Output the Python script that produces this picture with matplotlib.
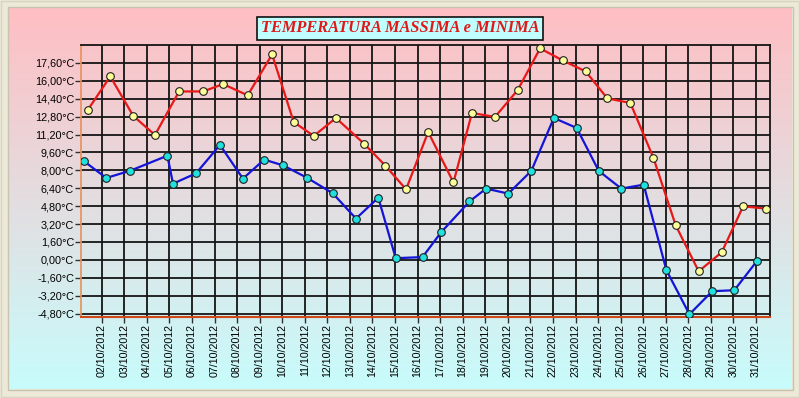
import numpy as np
import matplotlib
matplotlib.use("Agg")
import matplotlib.pyplot as plt
from matplotlib.patches import Rectangle

# Temperature readings for October 2012 (x = day of month, fractional = time of reading)
max_days = [1.38, 2.38, 3.40, 4.36, 5.43, 6.50, 7.38, 8.47, 9.55, 10.51, 11.40, 12.38,
            13.64, 14.57, 15.49, 16.47, 17.59, 18.41, 19.43, 20.44, 21.43, 22.43, 23.45,
            24.41, 25.43, 26.45, 27.44, 28.46, 29.48, 30.43, 31.43]
max_vals = [13.39, 16.39, 12.86, 11.16, 15.05, 15.05, 15.71, 14.70, 18.36, 12.32, 11.07, 12.68,
            10.36, 8.42, 6.30, 11.43, 6.92, 13.13, 12.77, 15.18, 18.90, 17.82, 16.84,
            14.43, 14.02, 9.13, 3.09, -1.02, 0.68, 4.79, 4.58]

min_days = [1.20, 2.20, 3.27, 4.91, 5.16, 6.18, 7.24, 8.26, 9.20, 10.03, 11.09, 12.24,
            13.27, 14.26, 15.03, 16.22, 17.04, 18.30, 19.04, 20.02, 21.04, 22.04, 23.05,
            24.03, 25.03, 26.02, 27.03, 28.05, 29.06, 30.04, 31.03]
min_vals = [8.84, 7.32, 7.97, 9.31, 6.81, 7.73, 10.27, 7.26, 8.96, 8.45, 7.35, 5.95,
            3.69, 5.56, 0.15, 0.25, 2.46, 5.22, 6.37, 5.92, 7.95, 12.68, 11.79,
            7.95, 6.37, 6.72, -0.93, -4.86, -2.80, -2.71, -0.13]

tick_days = list(range(2, 32))
tick_labels = ["%02d/10/2012" % d for d in tick_days]
y_ticks = [-4.8 + 1.6 * i for i in range(15)]

fig = plt.figure(figsize=(8, 3.98), dpi=100, facecolor="#ece9d8")

# gradient panel behind everything
bg = fig.add_axes([0, 0, 1, 1], zorder=0)
bg.set_xlim(0, 800)
bg.set_ylim(398, 0)
bg.axis("off")
top_c = np.array([255, 190, 195]) / 255
bot_c = np.array([200, 252, 252]) / 255
t = np.linspace(0, 1, 256)[:, None, None]
grad = top_c * (1 - t) + bot_c * t
bg.imshow(grad, extent=[8, 792, 389, 7], aspect="auto", interpolation="bilinear")
bg.add_patch(Rectangle((7.5, 6.5), 785, 383, fill=False, edgecolor="#c8c4b0", lw=1))
bg.add_patch(Rectangle((1, 1), 798, 396, fill=False, edgecolor="#d8d4c0", lw=1))

ax = fig.add_axes([81 / 800, 1 - 317.3 / 398, (770 - 81) / 800, (317.3 - 45) / 398], zorder=1)
ax.patch.set_alpha(0)

ax.plot(max_days, max_vals, color="#e81818", lw=1.6, marker="o", ms=5.5,
        mfc="#ffff99", mec="#202020", mew=0.8, zorder=4)
ax.plot(min_days, min_vals, color="#1414d8", lw=1.6, marker="o", ms=5.5,
        mfc="#20e0e0", mec="#202020", mew=0.8, zorder=4)

ax.set_xlim(1.082, 31.62)
ax.set_ylim(-5.13, 19.2)
ax.set_xticks(tick_days)
ax.set_xticklabels(tick_labels, rotation=90, fontsize=7.7, family="Liberation Sans")
ax.set_yticks(y_ticks)
ax.set_yticklabels([("%.2f°C" % v).replace(".", ",") for v in y_ticks],
                   fontsize=7.8, family="Liberation Sans")
ax.tick_params(length=4, width=1, color="#303030", pad=1)
ax.grid(True, color="#151515", lw=1.3)
ax.set_axisbelow(True)

for s in ["top", "right"]:
    ax.spines[s].set_color("#151515")
    ax.spines[s].set_linewidth(1.3)
ax.spines["left"].set_color("#e8905a")
ax.spines["left"].set_linewidth(1.2)
ax.spines["bottom"].set_color("#d04818")
ax.spines["bottom"].set_linewidth(1.5)

fig.text(0.5, 1 - 28.3 / 398, "TEMPERATURA MASSIMA e MINIMA", ha="center", va="center",
         fontsize=11.8, family="Liberation Serif", style="italic", weight="bold",
         color="#e01818", zorder=5,
         bbox=dict(boxstyle="square,pad=0.22", facecolor="#c0ffff", edgecolor="#101010", lw=1.2))

fig.savefig("out.png", dpi=100, facecolor=fig.get_facecolor())
